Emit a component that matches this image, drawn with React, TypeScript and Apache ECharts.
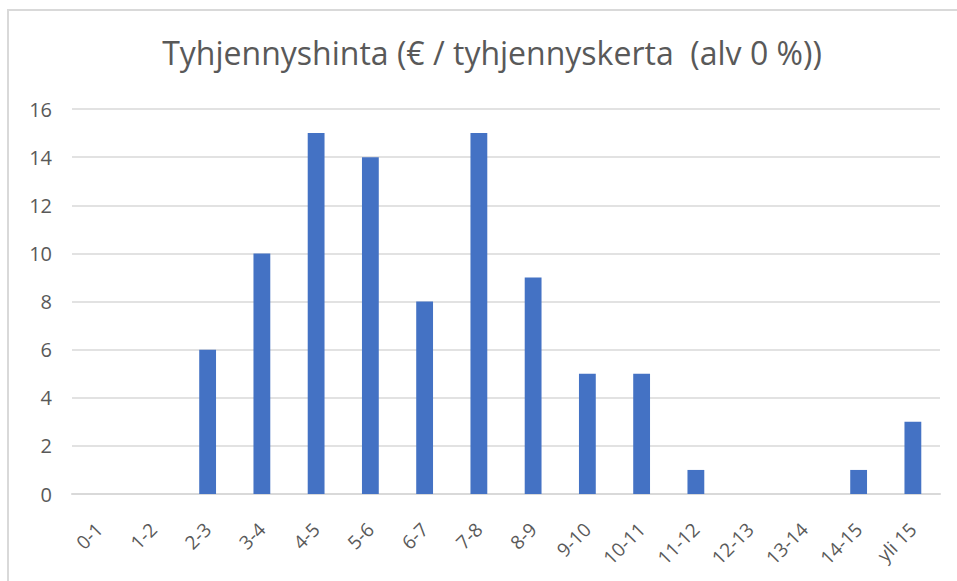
import React, { useEffect, useRef } from "react";
import * as echarts from "echarts";

const categories = ["0-1", "1-2", "2-3", "3-4", "4-5", "5-6", "6-7", "7-8", "8-9", "9-10", "10-11", "11-12", "12-13", "13-14", "14-15", "yli 15"];
const values = [0, 0, 6, 10, 15, 14, 8, 15, 9, 5, 5, 1, 0, 0, 1, 3];
const titleText = "Tyhjennyshinta (€ / tyhjennyskerta  (alv 0 %))";

export default function App() {
  const ref = useRef<HTMLDivElement>(null);
  useEffect(() => {
    if (!ref.current) return;
    const chart = echarts.init(ref.current, undefined, { renderer: "svg" });
    chart.setOption({
      animation: false,
      backgroundColor: "#ffffff",
      textStyle: { fontFamily: "Open Sans" },
      graphic: [
        {
          type: "rect",
          shape: { x: 8, y: 10, width: 1000, height: 700 },
          style: { fill: "none", stroke: "#d9d9d9", lineWidth: 2 },
          silent: true,
        },
      ],
      title: {
        text: titleText,
        left: 487,
        top: 31,
        textAlign: "center",
        textStyle: { fontFamily: "Open Sans", fontSize: 32, fontWeight: "normal", color: "#595959" },
      },
      grid: { left: 72, right: 17, top: 109, bottom: 87, containLabel: false },
      xAxis: {
        type: "category",
        data: categories,
        axisLine: { show: true, lineStyle: { color: "#d9d9d9", width: 2 } },
        axisTick: { show: false },
        axisLabel: { rotate: 45, color: "#595959", fontSize: 19, margin: 32, interval: 0 },
      },
      yAxis: {
        type: "value",
        min: 0,
        max: 16,
        interval: 2,
        axisLine: { show: false },
        axisTick: { show: false },
        axisLabel: { color: "#595959", fontSize: 20, margin: 20 },
        splitLine: { lineStyle: { color: "#d9d9d9", width: 1.5 } },
      },
      series: [
        {
          type: "bar",
          data: values,
          barWidth: "31%",
          itemStyle: { color: "#4472c4" },
        },
      ],
    });
    return () => chart.dispose();
  }, []);
  return <div ref={ref} style={{ position: "fixed", left: 0, top: 0, width: 957, height: 581 }} />;
}
